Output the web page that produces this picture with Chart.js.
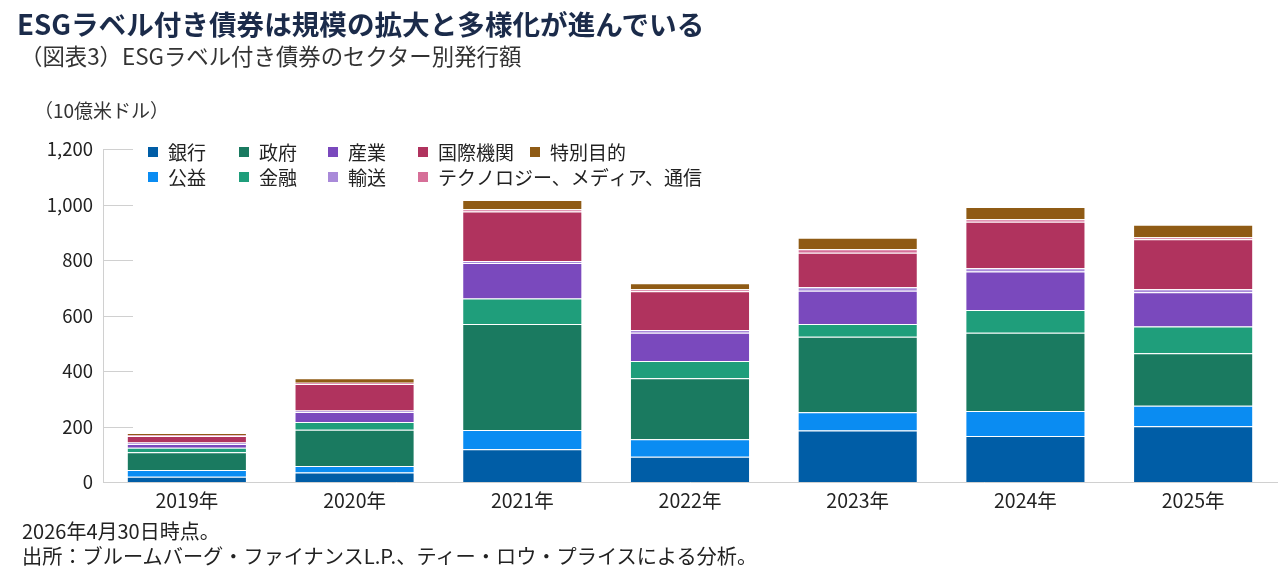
<!DOCTYPE html>
<html lang="ja">
<head>
<meta charset="utf-8">
<script src="https://cdn.jsdelivr.net/npm/chart.js@4.4.1/dist/chart.umd.min.js"></script>
<style>
  html, body { margin: 0; padding: 0; background: #fff; }
  body { width: 1280px; height: 583px; position: relative; overflow: hidden;
         font-family: "Noto Sans CJK JP", "Noto Sans", sans-serif; color: #222; }
  #wrap { position: absolute; left: 0; top: 0; width: 1280px; height: 583px; }
  .txt { position: absolute; white-space: nowrap; }
  #title { left: 17px; top: 3px; font-size: 27.6px; font-weight: bold; color: #1b2b4a; }
  #sub { left: 20px; top: 39px; font-size: 22.4px; color: #333; }
  #unit { left: 34px; top: 96px; font-size: 19px; color: #333; }
  #note1 { left: 22px; top: 516px; font-size: 20px; color: #222; }
  #note2 { left: 22px; top: 541px; font-size: 20.2px; color: #222; }
</style>
</head>
<body>
<div id="wrap"><canvas id="chart"></canvas></div>
<div class="txt" id="title">ESGラベル付き債券は規模の拡大と多様化が進んでいる</div>
<div class="txt" id="sub">（図表3）ESGラベル付き債券のセクター別発行額</div>
<div class="txt" id="unit">（10億米ドル）</div>
<div class="txt" id="note1">2026年4月30日時点。</div>
<div class="txt" id="note2">出所：ブルームバーグ・ファイナンスL.P.、ティー・ロウ・プライスによる分析。</div>
<script>
// 発行額（10億米ドル）、下から積み上げ順
const years = ['2019年', '2020年', '2021年', '2022年', '2023年', '2024年', '2025年'];
const banks      = [19, 34, 118, 91, 186, 166, 201];
const utilities  = [24, 24, 69, 63, 65, 90, 74];
const government = [64, 130, 382, 220, 272, 282, 189];
const financial  = [16, 28, 92, 62, 46, 82, 96];
const industrial = [14, 36, 128, 102, 120, 139, 124];
const transport  = [5, 6, 7, 10, 13, 11, 11];
const agencies   = [24, 95, 179, 139, 124, 168, 180];
const tmt        = [3, 5, 8, 8, 13, 9, 7];
const special    = [8, 16, 33, 21, 41, 44, 45];
const yTicks = [0, 200, 400, 600, 800, 1000, 1200];

const series = [
    { label: '銀行', data: banks, color: '#005da6' },
    { label: '公益', data: utilities, color: '#0a8cf2' },
    { label: '政府', data: government, color: '#1a7a60' },
    { label: '金融', data: financial, color: '#1f9e7b' },
    { label: '産業', data: industrial, color: '#7a49bd' },
    { label: '輸送', data: transport, color: '#a98ad9' },
    { label: '国際機関', data: agencies, color: '#b0335e' },
    { label: 'テクノロジー、メディア、通信', data: tmt, color: '#d66f98' },
    { label: '特別目的', data: special, color: '#8f5b15' }
];

// 凡例の並び（列, 行）
const legendSlots = [[0, 0], [0, 1], [1, 0], [1, 1], [2, 0], [2, 1], [3, 0], [3, 1], [4, 0]];
const legendColX = [148, 239, 328, 418, 530];
const legendRowY = [152, 177];

const gridLegend = {
    id: 'gridLegend',
    afterDraw(chart) {
        const ctx = chart.ctx;
        ctx.save();
        ctx.font = '19px "Noto Sans CJK JP", sans-serif';
        ctx.textBaseline = 'middle';
        chart.data.datasets.forEach((ds, i) => {
            const [c, r] = legendSlots[i];
            const x = legendColX[c], y = legendRowY[r];
            ctx.fillStyle = ds.backgroundColor;
            ctx.fillRect(x, y - 5, 10, 10);
            ctx.fillStyle = '#222';
            ctx.fillText(ds.label, x + 20, y + 1);
        });
        ctx.restore();
    }
};

// y軸の目盛り線（内側に短く）
const innerTicks = {
    id: 'innerTicks',
    beforeDatasetsDraw(chart) {
        const y = chart.scales.y;
        const ctx = chart.ctx;
        ctx.save();
        ctx.strokeStyle = '#d0d0d0';
        ctx.lineWidth = 1;
        y.ticks.forEach(t => {
            if (t.value === 0) return;
            const py = Math.round(y.getPixelForValue(t.value)) + 0.5;
            ctx.beginPath();
            ctx.moveTo(chart.chartArea.left, py);
            ctx.lineTo(chart.chartArea.left + 30, py);
            ctx.stroke();
        });
        ctx.restore();
    }
};

Chart.defaults.font.family = '"Noto Sans CJK JP", sans-serif';
Chart.defaults.color = '#222';

new Chart(document.getElementById('chart'), {
    type: 'bar',
    data: {
        labels: years,
        datasets: series.map(s => ({
            label: s.label,
            data: s.data,
            backgroundColor: s.color,
            borderColor: 'rgba(255,255,255,0.85)',
            borderWidth: 1,
            borderSkipped: 'start',
            barPercentage: 1,
            categoryPercentage: 0.716
        }))
    },
    options: {
        responsive: true,
        maintainAspectRatio: false,
        animation: false,
        layout: { padding: { left: 0, right: 3, top: 149, bottom: 0 } },
        plugins: {
            legend: { display: false },
            tooltip: { enabled: false }
        },
        scales: {
            x: {
                stacked: true,
                grid: { display: false, drawTicks: false },
                border: { display: true, color: '#d0d0d0', width: 1 },
                ticks: { font: { size: 19.5 }, padding: 7, color: '#222' },
                afterFit(scale) { scale.height = 101; }
            },
            y: {
                stacked: true,
                min: 0,
                max: 1200,
                afterBuildTicks(scale) { scale.ticks = yTicks.map(v => ({ value: v })); },
                grid: { display: false, drawTicks: false },
                border: { display: true, color: '#d0d0d0', width: 1 },
                ticks: {
                    font: { size: 18.5 },
                    padding: 10,
                    color: '#222',
                    callback: v => v.toLocaleString('en-US')
                },
                afterFit(scale) { scale.width = 103; }
            }
        }
    },
    plugins: [innerTicks, gridLegend]
});
</script>
</body>
</html>
